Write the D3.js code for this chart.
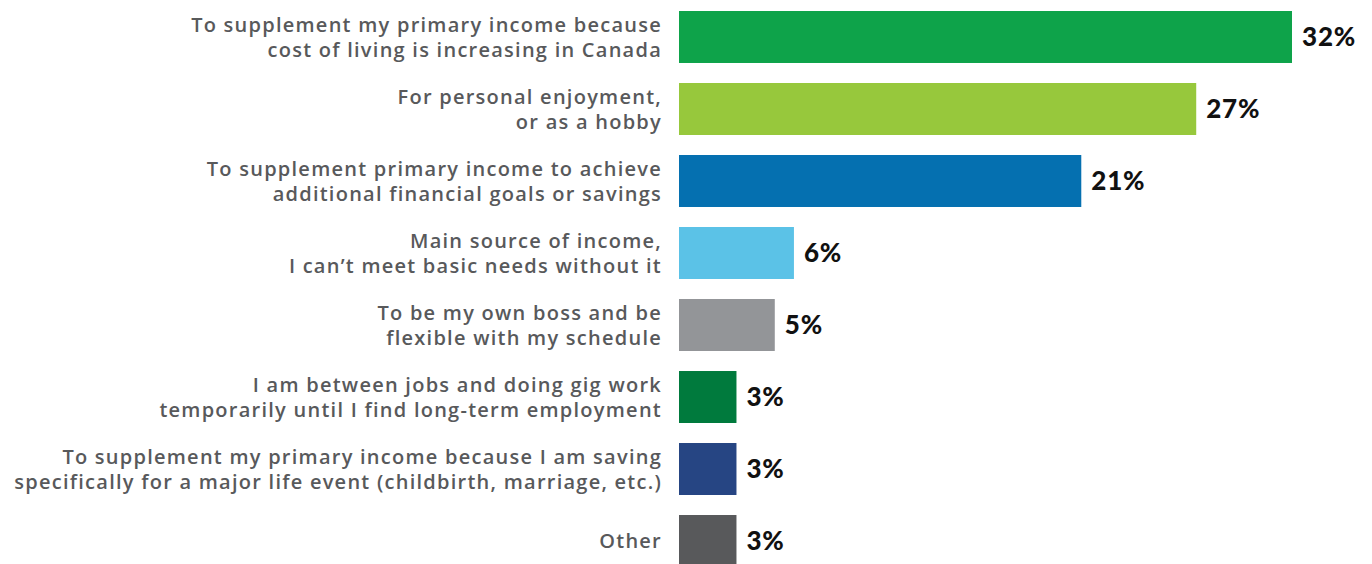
<!DOCTYPE html>
<html>
<head>
<meta charset="utf-8">
<script src="https://cdn.jsdelivr.net/npm/d3@7"></script>
<style>
  html, body { margin: 0; padding: 0; background: #ffffff; }
  svg { display: block; }
</style>
</head>
<body>
<svg id="chart" width="1372" height="564"></svg>
<script>
// Reasons for doing gig work (share of respondents)
const categories = [
  ["To supplement my primary income because", "cost of living is increasing in Canada"],
  ["For personal enjoyment,", "or as a hobby"],
  ["To supplement primary income to achieve", "additional financial goals or savings"],
  ["Main source of income,", "I can\u2019t meet basic needs without it"],
  ["To be my own boss and be", "flexible with my schedule"],
  ["I am between jobs and doing gig work", "temporarily until I find long-term employment"],
  ["To supplement my primary income because I am saving", "specifically for a major life event (childbirth, marriage, etc.)"],
  ["Other"]
];
const values = [32, 27, 21, 6, 5, 3, 3, 3];
const colors = ["#0ea34a", "#97c83c", "#0570b0", "#5bc2e7", "#939598", "#007a3d", "#264583", "#58595b"];

const svg = d3.select("#chart");
const x = d3.scaleLinear().domain([0, 32]).range([679, 1292]);
const y = d3.scaleBand().domain(d3.range(values.length)).range([11, 567]).paddingInner(0.278).paddingOuter(0);

const rows = svg.selectAll("g.row").data(values).join("g").attr("class", "row");

rows.append("rect")
  .attr("x", x(0))
  .attr("y", (d, i) => y(i))
  .attr("width", d => x(d) - x(0))
  .attr("height", y.bandwidth())
  .attr("fill", (d, i) => colors[i]);

rows.append("text")
  .attr("x", d => x(d) + 10)
  .attr("y", (d, i) => y(i) + y.bandwidth() / 2)
  .attr("dy", "0.36em")
  .attr("font-family", "Lato, sans-serif")
  .attr("font-weight", 900)
  .attr("font-size", 26)
  .attr("letter-spacing", 0.8)
  .attr("fill", "#111111")
  .text(d => d + "%");

const lineGap = 25;
rows.append("text")
  .attr("text-anchor", "end")
  .attr("font-family", "'Open Sans', sans-serif")
  .attr("font-weight", 600)
  .attr("font-size", 20)
  .attr("letter-spacing", 1.25)
  .attr("fill", "#58595b")
  .each(function (d, i) {
    const lines = categories[i];
    const cy = y(i) + y.bandwidth() / 2;
    const start = cy - (lines.length - 1) * lineGap / 2;
    d3.select(this).selectAll("tspan").data(lines).join("tspan")
      .attr("x", 662)
      .attr("y", (l, k) => start + k * lineGap)
      .attr("dy", "0.36em")
      .text(l => l);
  });
</script>
</body>
</html>
